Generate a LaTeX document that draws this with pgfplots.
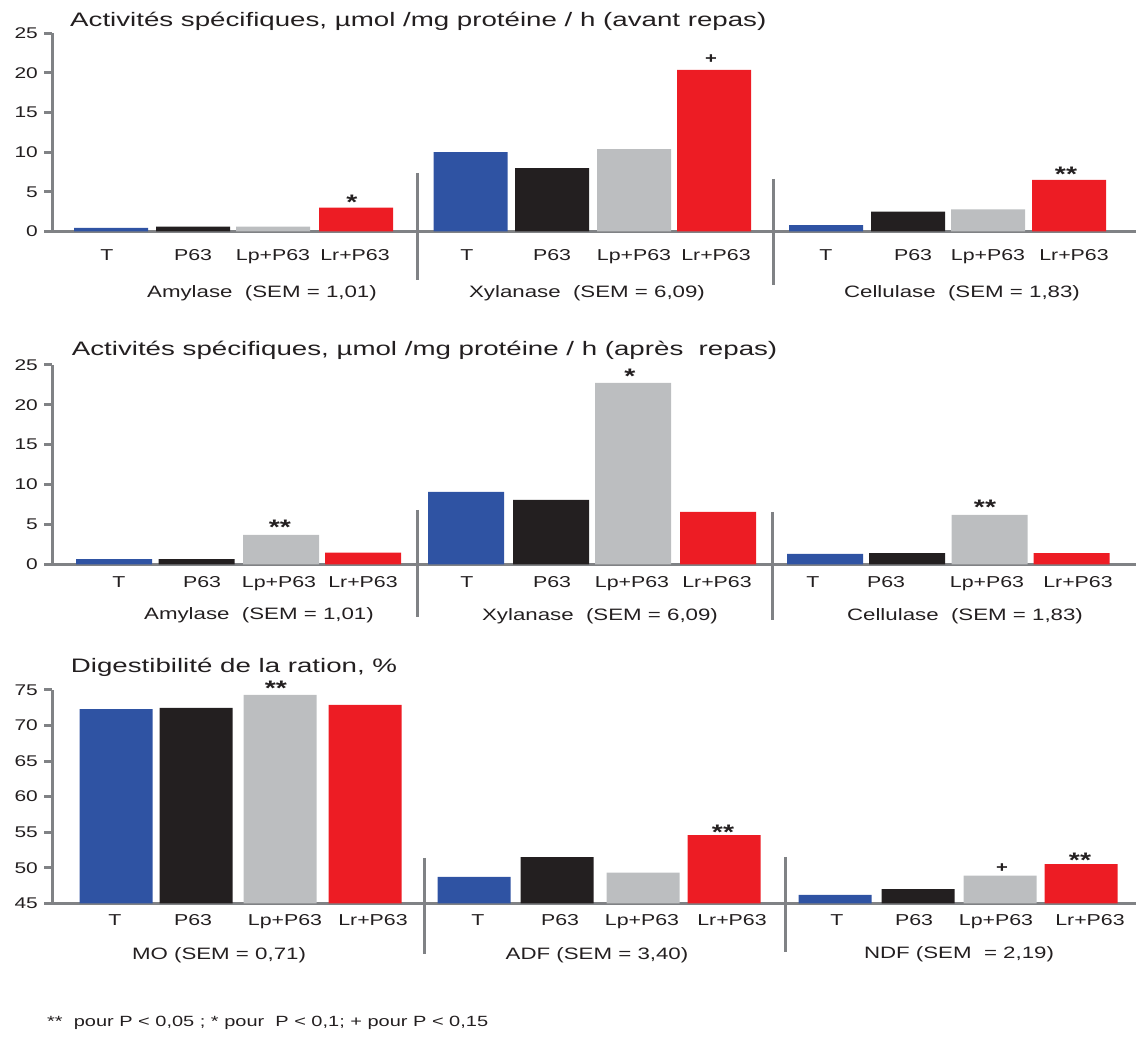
\documentclass[border=0pt]{standalone}
\usepackage{fontspec}
\setmainfont{Liberation Sans}[FakeStretch=1.35]
\newfontfamily\titlefont{Liberation Sans}[FakeStretch=1.42]
\usepackage{pgfplots}
\pgfplotsset{compat=1.18}
\definecolor{cblue}{RGB}{47,83,163}
\definecolor{cblack}{RGB}{35,31,32}
\definecolor{cgray}{RGB}{188,190,192}
\definecolor{cred}{RGB}{237,28,36}
\definecolor{axgray}{RGB}{128,130,133}
\definecolor{txt}{RGB}{35,31,32}
\pgfplotsset{
  panel/.style={
    scale only axis,
    width=1084pt,
    xmin=52, xmax=1136,
    anchor=south west,
    axis lines=left,
    axis line style={-, draw=axgray, line width=3pt},
    ytick style={draw=axgray, line width=3pt},
    xtick style={draw=none},
    tick align=outside,
    major tick length=8pt,
    yticklabel style={font=\fontsize{15.5}{18}\selectfont, text=txt, anchor=east, inner sep=0pt, xshift=-6pt},
    xticklabel style={font=\fontsize{15.8}{18}\selectfont, text=txt, anchor=base, inner sep=0pt},
    xticklabels={T,P63,Lp+P63,Lr+P63,T,P63,Lp+P63,Lr+P63,T,P63,Lp+P63,Lr+P63},
    /pgf/number format/assume math mode=true,
  },
  bb/.style={ybar, draw=none, fill=#1},
}
\tikzset{
  sep/.style={draw=axgray, line width=3pt},
  ast/.style={anchor=base, inner sep=0pt, text=txt, font=\bfseries\fontsize{21}{24}\selectfont},
  pls/.style={anchor=base, inner sep=0pt, text=txt, font=\bfseries\fontsize{15}{18}\selectfont},
  grp/.style={anchor=base, inner sep=0pt, text=txt, font=\fontsize{16.5}{19}\selectfont},
  ttl/.style={anchor=base west, inner sep=0pt, text=txt, font=\titlefont\fontsize{19.5}{22}\selectfont},
}
\begin{document}
\begin{tikzpicture}
\path[use as bounding box] (0,0) rectangle (1136pt,1041pt);
% ---------- Panel 1: avant repas ----------
\begin{axis}[panel, at={(52pt,809.5pt)}, height=198.2pt,
  ymin=0, ymax=25, ytick={0,5,10,15,20,25},
  xtick={107,193,273,355,467,552,634,716,826,913,988,1074},
  xticklabel style={yshift=-21pt}, bar width=74]
\addplot[bb=cblue]  coordinates {(111,0.45) (470.5,10.0) (826,0.8)};
\addplot[bb=cblack] coordinates {(193,0.6) (552,8.0) (908,2.5)};
\addplot[bb=cgray]  coordinates {(273,0.6) (634,10.4) (988,2.8)};
\addplot[bb=cred]   coordinates {(356,3.0) (714,20.4) (1069,6.5)};
\end{axis}
% ---------- Panel 2: apres repas ----------
\begin{axis}[panel, at={(52pt,476.7pt)}, height=199.3pt,
  ymin=0, ymax=25, ytick={0,5,10,15,20,25},
  xtick={119,202,279,363,467,552,632,717,813,886,987,1078},
  xticklabel style={yshift=-15.2pt}, bar width=76]
\addplot[bb=cblue]  coordinates {(114,0.66) (466,9.07) (825,1.3)};
\addplot[bb=cblack] coordinates {(196.5,0.66) (551,8.07) (907,1.4)};
\addplot[bb=cgray]  coordinates {(281,3.7) (633,22.75) (989.5,6.2)};
\addplot[bb=cred]   coordinates {(363,1.45) (718,6.56) (1071.5,1.4)};
\end{axis}
% ---------- Panel 3: digestibilite ----------
\begin{axis}[panel, at={(52pt,137.7pt)}, height=213.3pt,
  ymin=45, ymax=75, ytick={45,50,55,60,65,70,75},
  xtick={115,193,285,373,478,560,642,732,837,914,996,1090},
  xticklabel style={yshift=-14.2pt}, bar width=73]
\addplot[bb=cblue]  coordinates {(116,72.3) (474,48.7) (835,46.2)};
\addplot[bb=cblack] coordinates {(196,72.5) (557,51.5) (918,47.0)};
\addplot[bb=cgray]  coordinates {(280,74.3) (643,49.3) (1000,48.9)};
\addplot[bb=cred]   coordinates {(365,72.9) (724,54.6) (1081,50.5)};
\end{axis}
% ---------- separators ----------
\draw[sep] (417pt,868pt) -- (417pt,761pt);
\draw[sep] (773pt,862pt) -- (773pt,756pt);
\draw[sep] (417pt,531pt) -- (417pt,424pt);
\draw[sep] (772pt,529pt) -- (772pt,421pt);
\draw[sep] (424pt,183pt) -- (424pt,87pt);
\draw[sep] (785pt,184pt) -- (785pt,89pt);
% ---------- titles ----------
\node[ttl] at (70pt,1014.3pt) {Activités spécifiques, µmol /mg protéine / h (avant repas)};
\node[ttl] at (71.7pt,685pt) {Activités spécifiques, µmol /mg protéine / h (après~ repas)};
\node[ttl] at (70.7pt,368.3pt) {Digestibilité de la ration, \%};
% ---------- group labels ----------
\node[grp] at (262pt,743pt) {Amylase ~(SEM = 1,01)};
\node[grp] at (587pt,743pt) {Xylanase ~(SEM = 6,09)};
\node[grp] at (962pt,743pt) {Cellulase ~(SEM = 1,83)};
\node[grp] at (259pt,421pt) {Amylase ~(SEM = 1,01)};
\node[grp] at (600pt,420pt) {Xylanase ~(SEM = 6,09)};
\node[grp] at (965pt,420pt) {Cellulase ~(SEM = 1,83)};
\node[grp] at (219pt,81pt) {MO (SEM = 0,71)};
\node[grp] at (597pt,81pt) {ADF (SEM = 3,40)};
\node[grp] at (959pt,82pt) {NDF (SEM ~= 2,19)};
% ---------- significance marks ----------
\node[ast] at (352pt,831.5pt) {*};
\node[pls] at (711pt,977pt) {+};
\node[ast] at (1066pt,859pt) {**};
\node[ast] at (280pt,506pt) {**};
\node[ast] at (630pt,657pt) {*};
\node[ast] at (985pt,526pt) {**};
\node[ast] at (276pt,345pt) {**};
\node[ast] at (723pt,201pt) {**};
\node[pls] at (1002pt,168pt) {+};
\node[ast] at (1080pt,173pt) {**};
% ---------- footnote ----------
\node[anchor=base west, inner sep=0pt, text=txt, font=\fontsize{14.8}{17}\selectfont] at (47pt,14.3pt) {**~ pour P < 0,05 ; * pour ~P < 0,1; + pour P < 0,15};
\end{tikzpicture}
\end{document}
